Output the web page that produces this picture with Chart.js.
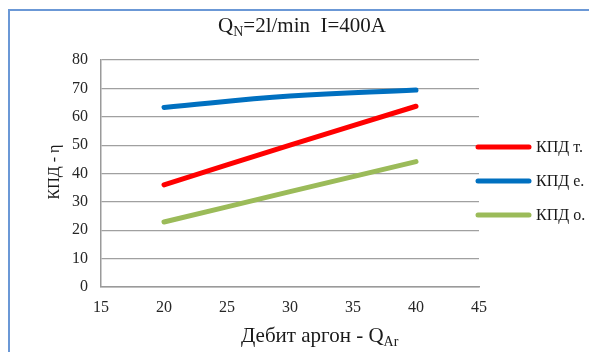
<!DOCTYPE html>
<html>
<head>
<meta charset="utf-8">
<script src="https://cdn.jsdelivr.net/npm/chart.js@4.4.1/dist/chart.umd.min.js"></script>
<style>
  html, body { margin: 0; padding: 0; background: #fff; }
  #wrap { position: relative; width: 589px; height: 352px; }
  #frame { position: absolute; left: 8px; top: 9px; width: 590px; height: 350px;
           border-left: 2px solid #6b98d6; border-top: 2px solid #6b98d6; }
  canvas { position: absolute; left: 0; top: 0; }
</style>
</head>
<body>
<div id="wrap">
  <div id="frame"></div>
  <canvas id="grafik" width="589" height="352"></canvas>
</div>
<script>
// дебит аргон (l/min)
const debit = [20, 30, 40];
const kpdT = [36, 50, 63.7];
const kpdE = [63.3, 67.3, 69.4];
const kpdO = [22.9, 33.6, 44.2];
const seriesNames = ['КПД т.', 'КПД е.', 'КПД о.'];
const seriesColors = ['#ff0000', '#0070c0', '#9bbb59'];
const xTicks = [15, 20, 25, 30, 35, 40, 45];
const yTicks = [0, 10, 20, 30, 40, 50, 60, 70, 80];

const serif = "'Liberation Serif', 'Times New Roman', serif";

function toPoints(vals) {
    return debit.map((x, i) => ({ x: x, y: vals[i] }));
}

// draws a text with a subscript part, returns end x
function textSub(ctx, x, y, main, sub, size, subSize) {
    ctx.font = size + 'px ' + serif;
    ctx.fillText(main, x, y);
    let w = ctx.measureText(main).width;
    ctx.font = subSize + 'px ' + serif;
    ctx.fillText(sub, x + w, y + 4);
    return x + w + ctx.measureText(sub).width;
}

const textPlugin = {
    id: 'texts',
    afterDraw(chart) {
        const ctx = chart.ctx;
        ctx.save();
        ctx.fillStyle = '#1a1a1a';
        ctx.textBaseline = 'alphabetic';
        ctx.textAlign = 'left';

        // title: Q_N=2l/min  I=400A
        ctx.font = '21px ' + serif;
        const wQ = ctx.measureText('Q').width;
        const wRest = ctx.measureText('=2l/min  I=400A').width;
        ctx.font = '14px ' + serif;
        const wN = ctx.measureText('N').width;
        let tx = 302 - (wQ + wN + wRest) / 2;
        tx = textSub(ctx, tx, 32, 'Q', 'N', 21, 14);
        ctx.font = '21px ' + serif;
        ctx.fillText('=2l/min  I=400A', tx, 32);

        // x axis title
        textSub(ctx, 241, 342, 'Дебит аргон - Q', 'Ar', 21, 14);

        // y axis title
        ctx.save();
        ctx.translate(55, 172);
        ctx.rotate(-Math.PI / 2);
        ctx.textAlign = 'center';
        ctx.textBaseline = 'middle';
        ctx.font = '16px ' + serif;
        ctx.fillText('КПД - η', 0, 0);
        ctx.restore();

        // legend
        chart.data.datasets.forEach((ds, i) => {
            const ly = 147 + i * 34;
            ctx.strokeStyle = ds.borderColor;
            ctx.lineWidth = 5;
            ctx.lineCap = 'round';
            ctx.beginPath();
            ctx.moveTo(478, ly);
            ctx.lineTo(529, ly);
            ctx.stroke();
            ctx.fillStyle = '#1a1a1a';
            ctx.font = '16px ' + serif;
            ctx.textBaseline = 'middle';
            ctx.fillText(ds.label, 536, ly + 1);
        });
        ctx.restore();
    }
};

new Chart(document.getElementById('grafik'), {
    type: 'line',
    data: {
        datasets: [kpdT, kpdE, kpdO].map((vals, i) => ({
            label: seriesNames[i],
            data: toPoints(vals),
            borderColor: seriesColors[i],
            backgroundColor: seriesColors[i],
            borderWidth: 5,
            borderCapStyle: 'round',
            pointRadius: 0,
            tension: 0.4,
            fill: false
        }))
    },
    options: {
        responsive: false,
        animation: false,
        layout: { padding: { left: 0, top: 60, right: 110, bottom: 0 } },
        plugins: {
            legend: { display: false },
            title: { display: false },
            tooltip: { enabled: false }
        },
        scales: {
            x: {
                type: 'linear',
                min: 15,
                max: 45,
                afterFit: s => { s.height = 65; },
                afterBuildTicks: s => { s.ticks = xTicks.map(v => ({ value: v })); },
                grid: { display: false, drawTicks: false },
                border: { display: true, color: '#9a9a9a', width: 1.5 },
                ticks: {
                    padding: 11,
                    color: '#262626',
                    font: { family: serif, size: 16 },
                    maxRotation: 0
                }
            },
            y: {
                min: 0,
                max: 80,
                afterFit: s => { s.width = 101; },
                afterBuildTicks: s => { s.ticks = yTicks.map(v => ({ value: v })); },
                grid: { color: '#a0a0a0', lineWidth: 1.2, drawTicks: false },
                border: { display: true, color: '#9a9a9a', width: 1.5 },
                ticks: {
                    padding: 13,
                    color: '#262626',
                    font: { family: serif, size: 16 }
                }
            }
        }
    },
    plugins: [textPlugin]
});
</script>
</body>
</html>
